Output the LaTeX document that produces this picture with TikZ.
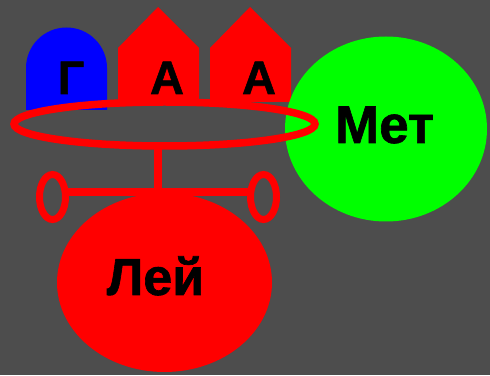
\documentclass[tikz,border=0pt]{standalone}
\usepackage{fontspec}
\setmainfont{Liberation Sans}[BoldFont={Liberation Sans Bold},BoldFeatures={FakeBold=1.2}]
\usetikzlibrary{shapes.geometric}
\definecolor{bg}{HTML}{4D4D4D}
\definecolor{rd}{HTML}{FF0000}
\definecolor{bl}{HTML}{0000FF}
\definecolor{gr}{HTML}{00FF00}
\tikzset{
  lbl/.style={anchor=base,inner sep=0pt,font=\bfseries\fontsize{#1}{#1}\selectfont,text=black},
  ringshape/.style={ellipse,draw=rd,line width=7.5pt,inner sep=0pt,outer sep=0pt},
  blob/.style={ellipse,inner sep=0pt,outer sep=0pt},
  rod/.style={draw=rd,line width=8pt}
}
\begin{document}
\begin{tikzpicture}[x=1pt,y=1pt]
\fill[bg] (0,0) rectangle (490,375);
\useasboundingbox (0,0) rectangle (490,375);
% blue arch
\fill[bl] (26,265) -- (26,307) arc[start angle=180,end angle=0,radius=40.5] -- (107,265) -- cycle;
% red pentagons
\fill[rd] (118,273) -- (118,327) -- (158,368) -- (199,327) -- (199,273) -- cycle;
\fill[rd] (210,273) -- (210,327) -- (250,368) -- (291,327) -- (291,273) -- cycle;
% green ellipse
\node[blob,fill=gr,minimum width=202pt,minimum height=185pt] (met) at (386,246) {};
% ring
\node[ringshape,minimum width=301pt,minimum height=44pt] (ring) at (164.5,251) {};
% small rings
\node[ringshape,minimum width=26pt,minimum height=45pt,line width=7pt] (lr) at (52.5,178) {};
\node[ringshape,minimum width=26pt,minimum height=45pt,line width=7pt] (rr) at (263.5,178) {};
\coordinate (bar) at (158,182.5);
\draw[rod] (lr.east |- bar) -- (rr.west |- bar);
\draw[rod] (ring.south -| bar) -- (bar);
% big red ellipse
\node[blob,fill=rd,minimum width=215pt,minimum height=179pt] (ley) at (164.5,92.5) {};
% texts
\node[lbl=47] (g) at (71,281) {Г};
\node[lbl=47] (a1) at (167,281) {А};
\node[lbl=47] (a2) at (259,281) {А};
\node[lbl=53] (mettext) at (384.5,232) {Мет};
\node[lbl=52] (leytext) at (155.5,80) {Лей};
\end{tikzpicture}
\end{document}
